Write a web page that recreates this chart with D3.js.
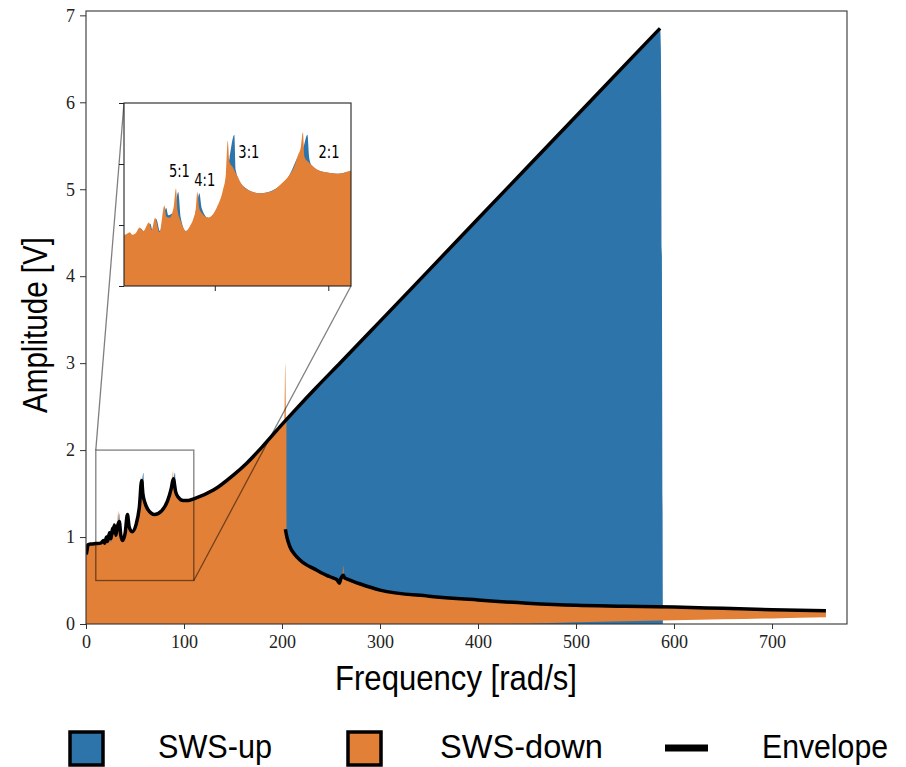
<!DOCTYPE html>
<html>
<head>
<meta charset="utf-8">
<script src="https://cdn.jsdelivr.net/npm/d3@7"></script>
<style>
body { margin: 0; background: #fff; }
</style>
</head>
<body>
<svg width="906" height="767"></svg>
<script>
// ---- values ----
// SWS-down (orange), top of the filled band
var downFreq = [0, 0.8, 3, 7, 10.4, 12.6, 13.6, 15, 17, 18.5, 21, 22.2, 23.7, 25.6, 27.8, 28.6, 30, 31.8, 32.9, 33.6, 35, 37.3, 39, 40.5, 41.6, 42.3, 43.1, 44.2, 47.1, 50.8, 53.5, 54.9, 55.7, 56.4, 58, 59.4, 62.4, 65.5, 69.7, 74, 77, 80, 82.9, 85, 86.6, 87.9, 88.8, 89.5, 91, 92.7, 96.7, 100, 104, 110.5,
  130, 150, 164, 180, 198, 202.3, 203.3, 204.3, 204.5, 204.6, 208, 213, 218, 225, 232, 240, 245.6, 252, 256, 259, 261.5, 262.5, 263.4, 266, 280, 300, 350, 400, 450, 500, 550, 600, 650, 700, 755];
var downAmp = [0.87, 0.92, 0.92, 0.92, 0.92, 0.94, 0.92, 0.93, 0.98, 0.95, 1.02, 0.96, 1.06, 0.94, 1.16, 1.07, 1.06, 1.14, 1.30, 1.12, 1.03, 0.95, 0.99, 1.05, 1.13, 1.27, 1.14, 1.10, 1.06, 1.14, 1.28, 1.42, 1.69, 1.52, 1.47, 1.42, 1.32, 1.28, 1.26, 1.27, 1.30, 1.35, 1.41, 1.48, 1.57, 1.64, 1.76, 1.56, 1.52, 1.49, 1.44, 1.43, 1.42, 1.45,
  1.54, 1.71, 1.85, 2.04, 2.27, 2.32, 3.0, 2.34, 2.34, 1.08, 0.88, 0.79, 0.73, 0.67, 0.63, 0.58, 0.55, 0.52, 0.50, 0.49, 0.53, 0.67, 0.54, 0.51, 0.45, 0.38, 0.31, 0.265, 0.23, 0.20, 0.19, 0.18, 0.165, 0.15, 0.142];
// SWS-down, bottom of the band where it lifts off zero
var floorFreq = [0, 440, 500, 589, 680, 755];
var floorAmp = [0, 0, 0.02, 0.04, 0.06, 0.077];

// SWS-up (blue)
var upFreq = [0, 0.8, 3, 10, 15, 17.5, 19, 21.6, 22.5, 24.2, 25.8, 28.6, 29.5, 31.5, 32.6, 33.9, 35, 37.3, 40.5, 42, 43.2, 44.2, 47.1, 50.8, 54.5, 56.5, 58.6, 59.2, 62.4, 69.7, 77, 82.9, 86.6, 88.8, 90.8, 91.6, 92.7, 96.7, 104, 110,
  130, 150, 164, 180, 198, 215, 235, 260, 300, 350, 400, 450, 500, 550, 584.5, 585.7, 586.6, 588.6];
var upAmp = [0.86, 0.91, 0.91, 0.91, 0.92, 0.97, 0.94, 1.01, 0.96, 1.05, 0.95, 1.14, 1.08, 1.10, 1.16, 1.27, 1.06, 0.95, 1.03, 1.15, 1.26, 1.14, 1.06, 1.13, 1.33, 1.55, 1.74, 1.45, 1.32, 1.26, 1.30, 1.41, 1.56, 1.62, 1.74, 1.55, 1.49, 1.44, 1.42, 1.44,
  1.54, 1.71, 1.85, 2.04, 2.27, 2.48, 2.72, 3.01, 3.48, 4.07, 4.66, 5.25, 5.84, 6.43, 6.84, 6.86, 6.6, 0];

// Envelope, upper branch (0 .. 586) and lower branch after the jump
var envFreq = [0.3, 1.2, 2.0, 5, 10, 15, 18, 19, 21, 22, 24, 25.5, 27, 28, 29, 30.5, 32, 34, 35.5, 37.3, 40, 42.3, 44, 47, 51, 54.5, 56.8, 58, 60, 63, 70, 77, 83, 87, 89.1, 91.5, 94, 99, 104, 110,
  130, 150, 164, 180, 198, 215, 235, 260, 300, 350, 400, 450, 500, 550, 585.7];
var envAmp = [0.80, 0.86, 0.91, 0.92, 0.925, 0.93, 0.96, 0.93, 1.00, 0.95, 1.05, 0.98, 1.10, 1.05, 1.14, 1.02, 1.12, 1.18, 1.02, 0.96, 1.05, 1.26, 1.12, 1.06, 1.14, 1.35, 1.65, 1.50, 1.40, 1.32, 1.26, 1.30, 1.41, 1.56, 1.67, 1.52, 1.46, 1.42, 1.42, 1.44,
  1.54, 1.71, 1.85, 2.04, 2.27, 2.48, 2.72, 3.01, 3.48, 4.07, 4.66, 5.25, 5.84, 6.43, 6.85];
var envLowFreq = [203.4, 205, 208, 213, 218, 225, 232, 240, 245.6, 252, 256, 258.5, 260, 262.5, 264, 266, 280, 300, 350, 400, 450, 500, 550, 600, 650, 700, 755];
var envLowAmp = [1.09, 1.00, 0.89, 0.80, 0.74, 0.68, 0.64, 0.59, 0.56, 0.53, 0.51, 0.47, 0.52, 0.56, 0.53, 0.52, 0.46, 0.39, 0.32, 0.276, 0.24, 0.215, 0.205, 0.195, 0.18, 0.165, 0.153];

var xTicks = [0, 100, 200, 300, 400, 500, 600, 700];
var yTicks = [0, 1, 2, 3, 4, 5, 6, 7];
var insetXTicks = [50, 100];
var insetYTicks = [0.5, 1.0, 1.5, 2.0];
var resonances = ["5:1", "4:1", "3:1", "2:1"];
var resonanceFreq = [34.4, 45.6, 65, 100.3];
var resonanceAmp = [1.39, 1.32, 1.55, 1.55];
var legendNames = ["SWS-up", "SWS-down", "Envelope"];

var blue = "#2c74aa", orange = "#e28037";

var svg = d3.select("svg");

var x = d3.scaleLinear().domain([0, 776.5]).range([86, 847]);
var y = d3.scaleLinear().domain([0, 7.05]).range([624, 11]);
var xi = d3.scaleLinear().domain([10, 110]).range([124, 351]);
var yi = d3.scaleLinear().domain([0.5, 2.0]).range([286, 103]);

var floor = d3.scaleLinear().domain(floorFreq).range(floorAmp).clamp(true);

function pairs(f, a) { return f.map(function(d, i) { return [d, a[i]]; }); }
var upPts = pairs(upFreq, upAmp),
    downPts = pairs(downFreq, downAmp),
    envPts = pairs(envFreq, envAmp),
    envLowPts = pairs(envLowFreq, envLowAmp);

function areaFn(xs, ys, lower) {
  return d3.area().curve(d3.curveMonotoneX)
    .x(function(d) { return xs(d[0]); })
    .y0(function(d) { return ys(lower ? lower(d[0]) : 0); })
    .y1(function(d) { return ys(d[1]); });
}
function lineFn(xs, ys) {
  return d3.line().curve(d3.curveMonotoneX)
    .x(function(d) { return xs(d[0]); })
    .y(function(d) { return ys(d[1]); });
}

var defs = svg.append("defs");
defs.append("clipPath").attr("id", "clip-main").append("rect")
  .attr("x", x(0)).attr("y", y(7.05)).attr("width", x(776.5) - x(0)).attr("height", y(0) - y(7.05));
defs.append("clipPath").attr("id", "clip-inset").append("rect")
  .attr("x", xi(10)).attr("y", yi(2)).attr("width", xi(110) - xi(10)).attr("height", yi(0.5) - yi(2));

// main plot
var plot = svg.append("g").attr("clip-path", "url(#clip-main)");
plot.append("path").datum(upPts).attr("d", areaFn(x, y)).attr("fill", blue);
plot.append("path").datum(downPts).attr("d", areaFn(x, y, floor)).attr("fill", orange);
plot.append("path").datum(envPts).attr("d", lineFn(x, y))
  .attr("fill", "none").attr("stroke", "#000").attr("stroke-width", 3.5).attr("stroke-linejoin", "round");
plot.append("path").datum(envLowPts).attr("d", lineFn(x, y))
  .attr("fill", "none").attr("stroke", "#000").attr("stroke-width", 3.5).attr("stroke-linejoin", "round");

// zoom box and connectors
var box = svg.append("g").attr("fill", "none").attr("stroke", "#000").attr("stroke-opacity", 0.5).attr("stroke-width", 1.3);
box.append("rect").attr("x", x(10)).attr("y", y(2)).attr("width", x(110) - x(10)).attr("height", y(0.5) - y(2));
box.append("line").attr("x1", x(10)).attr("y1", y(2)).attr("x2", xi(10)).attr("y2", yi(2));
box.append("line").attr("x1", x(110)).attr("y1", y(0.5)).attr("x2", xi(110)).attr("y2", yi(0.5));

// axes
var xAxis = svg.append("g").attr("transform", "translate(0," + y(0) + ")")
  .call(d3.axisBottom(x).tickValues(xTicks).tickSize(5).tickPadding(6).tickFormat(d3.format("d")));
var yAxis = svg.append("g").attr("transform", "translate(" + x(0) + ",0)")
  .call(d3.axisLeft(y).tickValues(yTicks).tickSize(6).tickPadding(5).tickFormat(d3.format("d")));
[xAxis, yAxis].forEach(function(g) {
  g.select(".domain").remove();
  g.selectAll("line").attr("stroke", "#333");
  g.selectAll("text").attr("font-family", "'Liberation Serif', serif").attr("font-size", 18).attr("fill", "#222");
});
svg.append("rect").attr("x", x(0)).attr("y", y(7.05)).attr("width", x(776.5) - x(0)).attr("height", y(0) - y(7.05))
  .attr("fill", "none").attr("stroke", "#333").attr("stroke-width", 1.1);

svg.append("text").attr("x", 456).attr("y", 690).attr("text-anchor", "middle")
  .attr("font-family", "'Liberation Sans', sans-serif").attr("font-size", 35)
  .attr("textLength", 242).attr("lengthAdjust", "spacingAndGlyphs")
  .text("Frequency [rad/s]");
svg.append("text").attr("transform", "translate(47,325) rotate(-90)").attr("text-anchor", "middle")
  .attr("font-family", "'Liberation Sans', sans-serif").attr("font-size", 35)
  .attr("textLength", 176).attr("lengthAdjust", "spacingAndGlyphs")
  .text("Amplitude [V]");

// inset
var inset = svg.append("g");
inset.append("rect").attr("x", xi(10)).attr("y", yi(2)).attr("width", xi(110) - xi(10)).attr("height", yi(0.5) - yi(2)).attr("fill", "#fff");
var insetPlot = inset.append("g").attr("clip-path", "url(#clip-inset)");
insetPlot.append("path").datum(upPts).attr("d", areaFn(xi, yi)).attr("fill", blue);
insetPlot.append("path").datum(downPts).attr("d", areaFn(xi, yi, floor)).attr("fill", orange);
var ixa = inset.append("g").attr("transform", "translate(0," + yi(0.5) + ")")
  .call(d3.axisBottom(xi).tickValues(insetXTicks).tickSize(5).tickFormat(""));
var iya = inset.append("g").attr("transform", "translate(" + xi(10) + ",0)")
  .call(d3.axisLeft(yi).tickValues(insetYTicks).tickSize(5).tickFormat(""));
[ixa, iya].forEach(function(g) { g.select(".domain").remove(); g.selectAll("line").attr("stroke", "#222"); });
inset.append("rect").attr("x", xi(10)).attr("y", yi(2)).attr("width", xi(110) - xi(10)).attr("height", yi(0.5) - yi(2))
  .attr("fill", "none").attr("stroke", "#222").attr("stroke-width", 1.1);
inset.selectAll(".res").data(resonances).enter().append("text")
  .attr("x", function(d, i) { return xi(resonanceFreq[i]); })
  .attr("y", function(d, i) { return yi(resonanceAmp[i]); })
  .attr("text-anchor", "middle")
  .attr("font-family", "'DejaVu Sans', sans-serif").attr("font-size", 17)
  .attr("textLength", 21).attr("lengthAdjust", "spacingAndGlyphs")
  .text(function(d) { return d; });

// legend
var leg = svg.append("g");
var legX = [70, 348, 665], legTextX = [158, 440, 762], legLen = [114, 163, 126];
leg.append("rect").attr("x", legX[0]).attr("y", 732).attr("width", 33).attr("height", 33)
  .attr("fill", blue).attr("stroke", "#000").attr("stroke-width", 3.5);
leg.append("rect").attr("x", legX[1]).attr("y", 732).attr("width", 33).attr("height", 33)
  .attr("fill", orange).attr("stroke", "#000").attr("stroke-width", 3.5);
leg.append("line").attr("x1", legX[2]).attr("x2", legX[2] + 43).attr("y1", 748).attr("y2", 748)
  .attr("stroke", "#000").attr("stroke-width", 7);
leg.selectAll(".lt").data(legendNames).enter().append("text")
  .attr("x", function(d, i) { return legTextX[i]; }).attr("y", 758)
  .attr("font-family", "'Liberation Sans', sans-serif").attr("font-size", 33)
  .attr("textLength", function(d, i) { return legLen[i]; }).attr("lengthAdjust", "spacingAndGlyphs")
  .text(function(d) { return d; });
</script>
</body>
</html>
